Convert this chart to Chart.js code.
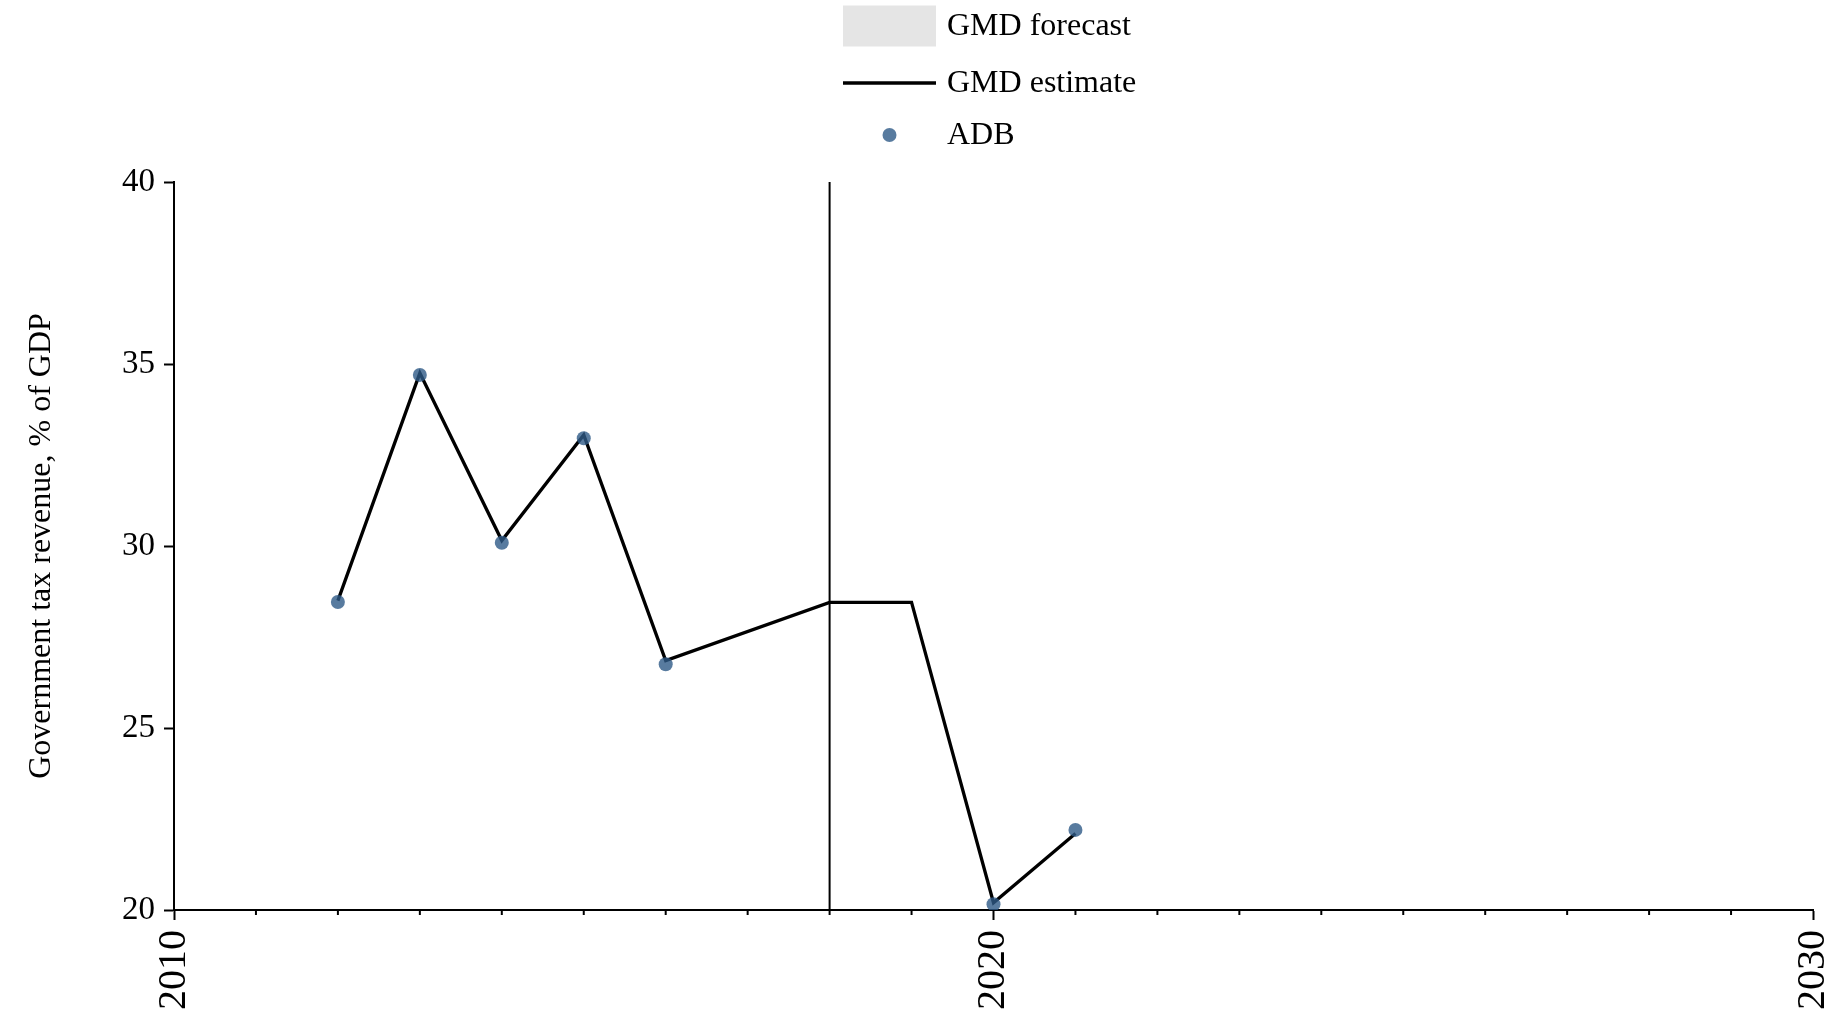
<!DOCTYPE html>
<html>
<head>
<meta charset="utf-8">
<script src="https://cdn.jsdelivr.net/npm/chart.js@4/dist/chart.umd.min.js"></script>
<style>
    body { margin: 0; background: #fff; }
    #wrap { width: 1840px; height: 1016px; }
</style>
</head>
<body>
<div id="wrap"><canvas id="taxChart"></canvas></div>
<script>
// values
const gmdYears = [2012, 2013, 2014, 2015, 2016, 2018, 2019, 2020, 2021];
const gmdEstimate = [28.5, 34.75, 30.15, 33.05, 26.85, 28.45, 28.45, 20.2, 22.1];
const adbYears = [2012, 2013, 2014, 2015, 2016, 2020, 2021];
const adbValues = [28.46, 34.7, 30.09, 32.96, 26.75, 20.16, 22.2];
const forecastStart = 2018;
const xTickLabels = [2010, 2020, 2030];
const yTickLabels = [20, 25, 30, 35, 40];

const serif = '"Liberation Serif", "Times New Roman", serif';

// stacked legend at the top, built from the datasets
const stackedLegend = {
    id: 'stackedLegend',
    afterDraw(chart) {
        const ctx = chart.ctx;
        const items = chart.data.datasets.filter(d => d.legendKind);
        const rows = [26, 83, 135];
        const left = 843, right = 936, textX = 947;
        ctx.save();
        ctx.font = '32px ' + serif;
        ctx.textBaseline = 'middle';
        items.forEach((ds, i) => {
            const cy = rows[i];
            if (ds.legendKind === 'box') {
                ctx.fillStyle = ds.backgroundColor;
                ctx.fillRect(left, cy - 20.5, right - left, 41);
            } else if (ds.legendKind === 'line') {
                ctx.strokeStyle = ds.borderColor;
                ctx.lineWidth = ds.borderWidth;
                ctx.beginPath();
                ctx.moveTo(left, cy);
                ctx.lineTo(right, cy);
                ctx.stroke();
            } else {
                ctx.fillStyle = ds.pointBackgroundColor;
                ctx.beginPath();
                ctx.arc((left + right) / 2, cy, ds.pointRadius, 0, Math.PI * 2);
                ctx.fill();
            }
            ctx.fillStyle = '#000';
            ctx.fillText(ds.label, textX, cy + 1);
        });
        ctx.restore();
    }
};

// small yearly ticks on the x axis
const minorTicks = {
    id: 'minorTicks',
    afterDraw(chart) {
        const xs = chart.scales.x;
        const y0 = chart.chartArea.bottom;
        const ctx = chart.ctx;
        ctx.save();
        ctx.strokeStyle = '#000';
        ctx.lineWidth = 2;
        for (let yr = xs.min; yr <= xs.max; yr++) {
            if (yr % 10 === 0) continue;
            const px = xs.getPixelForValue(yr);
            ctx.beginPath();
            ctx.moveTo(px, y0);
            ctx.lineTo(px, y0 + 5);
            ctx.stroke();
        }
        ctx.restore();
    }
};

const ctx = document.getElementById('taxChart').getContext('2d');
new Chart(ctx, {
    type: 'line',
    data: {
        datasets: [
            {
                label: 'GMD forecast',
                legendKind: 'box',
                data: [],
                backgroundColor: '#e5e5e5',
                borderWidth: 0,
                order: 3
            },
            {
                label: 'GMD estimate',
                legendKind: 'line',
                data: gmdYears.map((yr, i) => ({ x: yr, y: gmdEstimate[i] })),
                borderColor: '#000',
                borderWidth: 3.3,
                pointRadius: 0,
                tension: 0,
                order: 1
            },
            {
                label: 'ADB',
                legendKind: 'dot',
                data: adbYears.map((yr, i) => ({ x: yr, y: adbValues[i] })),
                showLine: false,
                pointRadius: 7,
                pointBackgroundColor: 'rgba(46, 90, 135, 0.8)',
                pointBorderWidth: 0,
                order: 0
            },
            {
                label: 'forecast start',
                data: [
                    { x: forecastStart, y: yTickLabels[0] },
                    { x: forecastStart, y: yTickLabels[yTickLabels.length - 1] }
                ],
                borderColor: '#000',
                borderWidth: 2,
                pointRadius: 0,
                order: 2
            }
        ]
    },
    options: {
        responsive: true,
        maintainAspectRatio: false,
        animation: false,
        layout: {
            padding: { left: 0, right: 27, top: 182, bottom: 0 }
        },
        plugins: {
            legend: { display: false },
            tooltip: { enabled: false }
        },
        scales: {
            x: {
                type: 'linear',
                min: xTickLabels[0],
                max: xTickLabels[xTickLabels.length - 1],
                afterFit: scale => {
                    scale.height = 106;
                    scale.paddingLeft = 10;
                    scale.paddingRight = 10;
                },
                afterBuildTicks: scale => {
                    scale.ticks = xTickLabels.map(v => ({ value: v }));
                },
                ticks: {
                    callback: v => String(v),
                    minRotation: 90,
                    maxRotation: 90,
                    autoSkip: false,
                    padding: 10,
                    color: '#000',
                    font: { family: serif, size: 40 }
                },
                grid: {
                    drawOnChartArea: false,
                    tickLength: 10,
                    tickWidth: 2,
                    tickColor: '#000'
                },
                border: { color: '#000', width: 2 }
            },
            y: {
                min: yTickLabels[0],
                max: yTickLabels[yTickLabels.length - 1],
                afterFit: scale => { scale.width = 174; },
                afterBuildTicks: scale => {
                    scale.ticks = yTickLabels.map(v => ({ value: v }));
                },
                ticks: {
                    callback: v => String(v),
                    padding: 9,
                    color: '#000',
                    font: { family: serif, size: 33 }
                },
                grid: {
                    drawOnChartArea: false,
                    tickLength: 10,
                    tickWidth: 2,
                    tickColor: '#000'
                },
                border: { color: '#000', width: 2 },
                title: {
                    display: true,
                    text: 'Government tax revenue, % of GDP',
                    color: '#000',
                    font: { family: serif, size: 32 },
                    padding: { top: 22, bottom: 0 }
                }
            }
        }
    },
    plugins: [stackedLegend, minorTicks]
});
</script>
</body>
</html>
